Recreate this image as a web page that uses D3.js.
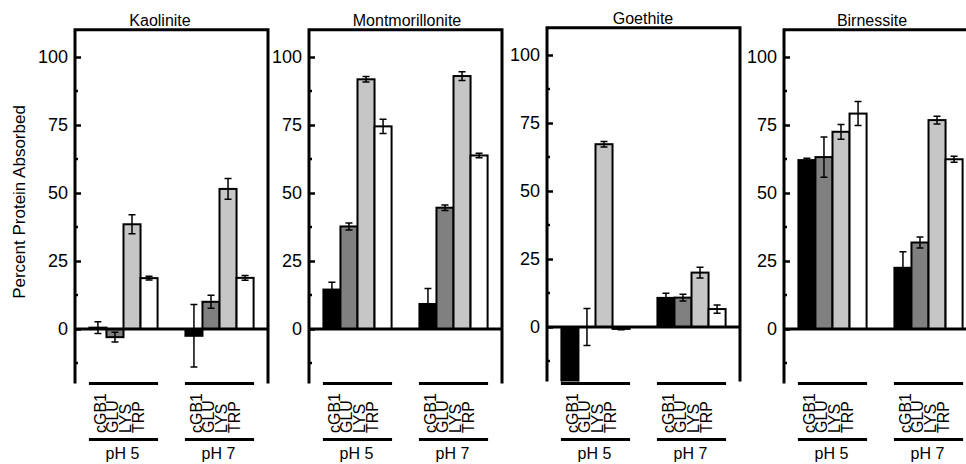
<!DOCTYPE html>
<html>
<head>
<meta charset="utf-8">
<script src="https://cdn.jsdelivr.net/npm/d3@7"></script>
<style>
  html, body { margin: 0; padding: 0; background: #fff; }
  svg { display: block; font-family: "Liberation Sans", Arial, sans-serif; }
</style>
</head>
<body>
<svg id="chart" width="966" height="464"></svg>
<script>
// Minerals (one panel each), pH groups and proteins
const minerals = ["Kaolinite", "Montmorillonite", "Goethite", "Birnessite"];
const phGroups = ["pH 5", "pH 7"];
const proteins = ["cGB1", "GLU", "LYS", "TRP"];

// Percent protein absorbed, [pH 5 values, pH 7 values] in protein order
const kaoliniteMean = [[0.5, -3.0, 38.5, 18.7], [-2.5, 10.0, 51.5, 18.8]];
const kaoliniteErr  = [[2.2, 1.8, 3.5, 0.7], [11.5, 2.4, 3.8, 0.9]];
const montmorilloniteMean = [[14.5, 37.7, 91.8, 74.5], [9.2, 44.6, 93.0, 63.8]];
const montmorilloniteErr  = [[2.7, 1.3, 1.0, 2.6], [5.7, 1.0, 1.6, 0.8]];
const goethiteMean = [[-24.0, 0.0, 67.2, -0.7], [10.7, 10.8, 20.0, 6.6]];
const goethiteErr  = [[0.0, 6.8, 1.0, 0.3], [1.7, 1.2, 2.0, 1.5]];
const birnessiteMean = [[62.1, 63.2, 72.5, 79.2], [22.5, 31.8, 76.8, 62.4]];
const birnessiteErr  = [[0.7, 7.4, 2.7, 4.4], [5.9, 2.0, 1.4, 1.1]];

const yTicks = [0, 25, 50, 75, 100];
const yMinorTicks = [-12.5, 12.5, 37.5, 62.5, 87.5];
const yLabel = "Percent Protein Absorbed";

const means = [kaoliniteMean, montmorilloniteMean, goethiteMean, birnessiteMean];
const errs  = [kaoliniteErr, montmorilloniteErr, goethiteErr, birnessiteErr];

// Layout
const panelLeft = [75, 309, 547, 784];
const panelShiftY = [0, 0, -2, 0];
const titleOffset = [85, 98, 96, 88];
const panelW = 193;
const fills = { cGB1: "#000000", GLU: "#808080", LYS: "#c6c6c6", TRP: "#ffffff" };

const svg = d3.select("#chart");

const y = d3.scaleLinear().domain([-20, 110]).range([383.4, 29.8]);

const xGroup = d3.scaleBand().domain(phGroups).range([0, panelW])
  .paddingInner(0.29).paddingOuter(0.15);
const xBar = d3.scaleBand().domain(proteins).range([0, xGroup.bandwidth()]).padding(0);

// y-axis title
svg.append("text")
  .attr("transform", "translate(25,202) rotate(-90)")
  .attr("text-anchor", "middle")
  .attr("font-size", 17)
  .text(yLabel);

const defs = svg.append("defs");

minerals.forEach((name, i) => {
  const g = svg.append("g")
    .attr("transform", `translate(${panelLeft[i]},${panelShiftY[i]})`);

  defs.append("clipPath").attr("id", "clip" + i)
    .append("rect")
    .attr("x", 0).attr("y", y(110))
    .attr("width", panelW).attr("height", y(-20) - y(110));

  // title
  g.append("text")
    .attr("x", titleOffset[i]).attr("y", 26)
    .attr("text-anchor", "middle")
    .attr("font-size", 16)
    .text(name);

  // bars
  const barData = [];
  phGroups.forEach((ph, gi) => {
    proteins.forEach((p, pi) => {
      barData.push({ ph, p, v: means[i][gi][pi], e: errs[i][gi][pi] });
    });
  });

  const plot = g.append("g").attr("clip-path", `url(#clip${i})`);

  plot.selectAll("rect.bar").data(barData).join("rect")
    .attr("class", "bar")
    .attr("x", d => xGroup(d.ph) + xBar(d.p))
    .attr("width", xBar.bandwidth())
    .attr("y", d => Math.min(y(d.v), y(0)))
    .attr("height", d => Math.abs(y(d.v) - y(0)))
    .attr("fill", d => fills[d.p])
    .attr("stroke", "#000")
    .attr("stroke-width", 2);

  // zero line
  g.append("line")
    .attr("x1", 0).attr("x2", panelW)
    .attr("y1", y(0)).attr("y2", y(0))
    .attr("stroke", "#000").attr("stroke-width", 3);

  // error bars
  const eb = plot.selectAll("g.err").data(barData.filter(d => d.e > 0)).join("g")
    .attr("class", "err")
    .attr("transform", d => `translate(${xGroup(d.ph) + xBar(d.p) + xBar.bandwidth() / 2},0)`);
  eb.append("line")
    .attr("y1", d => y(d.v + d.e)).attr("y2", d => y(d.v - d.e))
    .attr("stroke", "#000").attr("stroke-width", 1.5);
  eb.selectAll("line.cap").data(d => [d.v + d.e, d.v - d.e]).join("line")
    .attr("class", "cap")
    .attr("x1", -3.5).attr("x2", 3.5)
    .attr("y1", v => y(v)).attr("y2", v => y(v))
    .attr("stroke", "#000").attr("stroke-width", 1.5);

  // frame: left axis, right side, top (open at the bottom)
  const frame = d3.path();
  frame.moveTo(0, y(-20));
  frame.lineTo(0, y(110));
  frame.lineTo(panelW, y(110));
  frame.lineTo(panelW, y(-20));
  g.append("path").attr("d", frame.toString())
    .attr("fill", "none").attr("stroke", "#000").attr("stroke-width", 3)
    .attr("stroke-linejoin", "miter");

  // y axis ticks (pointing inward)
  const axis = d3.axisLeft(y).tickValues(yTicks).tickSizeInner(-6).tickSizeOuter(0)
    .tickPadding(7).tickFormat(d3.format("d"));
  const ax = g.append("g").call(axis);
  ax.select(".domain").remove();
  ax.selectAll(".tick line").attr("stroke", "#000").attr("stroke-width", 2.5);
  ax.selectAll(".tick text")
    .attr("font-size", 18)
    .attr("font-family", "Liberation Sans, Arial, sans-serif")
    .attr("fill", "#000");

  g.selectAll("line.minor").data(yMinorTicks).join("line")
    .attr("class", "minor")
    .attr("x1", 0).attr("x2", 3)
    .attr("y1", d => y(d)).attr("y2", d => y(d))
    .attr("stroke", "#000").attr("stroke-width", 2.5);

  // category labels beneath each pH group
  phGroups.forEach(ph => {
    const x0 = xGroup(ph), x1 = x0 + xGroup.bandwidth();
    const cx = (x0 + x1) / 2;
    [383.5, 439.5].forEach(ly => {
      g.append("line")
        .attr("x1", x0 - 0.5).attr("x2", x1 + 0.5)
        .attr("y1", ly - panelShiftY[i]).attr("y2", ly - panelShiftY[i])
        .attr("stroke", "#000").attr("stroke-width", 3);
    });
    const xl = d3.scalePoint().domain(proteins).range([cx - 19.2 - 4.4, cx + 19.2 - 4.4]);
    proteins.forEach(p => {
      const bx = xl(p) + 5.7, by = 433 - panelShiftY[i];
      g.append("text")
        .attr("transform", `translate(${bx},${by}) rotate(-90)`)
        .attr("text-anchor", "start")
        .attr("font-size", 16)
        .text(p);
    });
    g.append("text")
      .attr("x", cx - 1).attr("y", 459 - panelShiftY[i])
      .attr("text-anchor", "middle")
      .attr("font-size", 16)
      .text(ph);
  });
});
</script>
</body>
</html>
